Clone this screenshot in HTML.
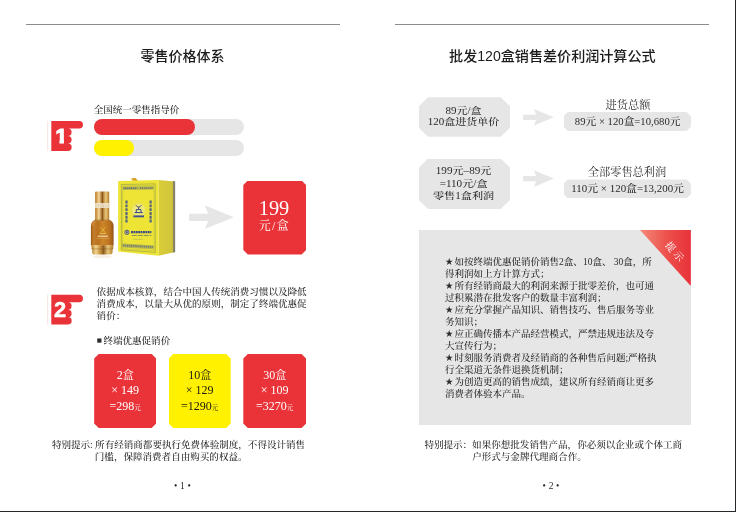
<!DOCTYPE html>
<html lang="zh-CN">
<head>
<meta charset="utf-8">
<title>零售价格体系</title>
<style>
html,body{margin:0;padding:0;background:#fff;}
body{width:736px;height:512px;position:relative;overflow:hidden;
  font-family:"Liberation Serif","Noto Serif CJK SC",serif;color:#2b2b2b;}
.abs{position:absolute;}
.t{position:absolute;white-space:nowrap;font-size:9.56px;line-height:12.1px;color:#2a2a2a;font-weight:500;}
.hline{position:absolute;height:1px;background:#8c8c8c;top:24px;}
.title{position:absolute;top:44px;font-family:"Liberation Sans","Noto Sans CJK SC",sans-serif;
  font-size:14px;line-height:24px;font-weight:500;color:#1c1c1c;white-space:nowrap;text-align:center;}
.bar{position:absolute;height:16px;border-radius:8px;}
.oct{position:absolute;text-align:center;white-space:nowrap;}
.pbox{position:absolute;width:62px;height:74px;top:354px;color:#fff;text-align:center;
  font-size:12px;line-height:15.7px;white-space:nowrap;
  clip-path:polygon(4.5px 0,calc(100% - 4.5px) 0,100% 4.5px,100% calc(100% - 4.5px),calc(100% - 4.5px) 100%,4.5px 100%,0 calc(100% - 4.5px),0 4.5px);}
.pbox .in{position:absolute;left:0;right:0;top:13.6px;}
.pbox small{font-size:6.5px;}
.pbox .h{font-size:11px;}
.gbox{position:absolute;background:#e6e6e6;text-align:center;white-space:nowrap;color:#2a2a2a;font-weight:500;}
.s{display:inline-block;width:9.5px;font-size:7.9px;line-height:9px;vertical-align:0.9px;text-indent:0.4px;}
.num{position:absolute;font-size:9.5px;line-height:12px;white-space:nowrap;color:#2a2a2a;word-spacing:0.35px;}
</style>
</head>
<body>

<!-- frame edges -->
<div class="abs" style="left:735px;top:0;width:1px;height:512px;background:#23292d;"></div>
<div class="abs" style="left:0;top:511px;width:736px;height:1px;background:#23292d;"></div>

<!-- ================= LEFT PAGE ================= -->
<div class="hline" style="left:26px;width:313.5px;"></div>
<div class="title" style="left:82.5px;width:200px;">零售价格体系</div>

<div class="t" style="left:93.8px;top:104px;font-size:9.5px;">全国统一零售指导价</div>

<!-- hand 1 -->
<svg class="abs" style="left:46px;top:119px;" width="40" height="34" viewBox="46 119 40 34">
  <rect x="47.4" y="121" width="0.7" height="30" fill="#f6d9d6"/>
  <path d="M51.3 121.1H79.2a3.75 3.75 0 0 1 0 7.5H67.9a3.7 3.7 0 0 1 0 7.4a3.7 3.7 0 0 1 0 7.4a3.7 3.7 0 0 1 0 7.5H51.3Z" fill="#e93338"/>
  <clipPath id="c1"><path d="M50 120H70V139.2H63.95V146H59.5V139.2H50Z"/></clipPath>
  <text x="55.5" y="142.8" clip-path="url(#c1)" style="font-family:'Liberation Sans',sans-serif;font-weight:700;font-size:20.8px" fill="#fff" stroke="#fff" stroke-width="1.1">1</text>
</svg>

<div class="bar" style="left:94px;top:119px;width:149.5px;background:#e6e6e6;"></div>
<div class="bar" style="left:94px;top:119px;width:101px;background:#e93338;"></div>
<div class="bar" style="left:94px;top:140px;width:149.5px;background:#e6e6e6;"></div>
<div class="bar" style="left:94px;top:140px;width:39.6px;background:#fff100;"></div>

<!-- product -->
<svg class="abs" id="product" style="left:86px;top:174px;" width="94" height="88" viewBox="86 174 94 88">
  <defs>
    <linearGradient id="capg" x1="0" y1="0" x2="1" y2="0">
      <stop offset="0" stop-color="#b57c2c"/><stop offset="0.1" stop-color="#cf9a4a"/>
      <stop offset="0.28" stop-color="#f2d7a0"/><stop offset="0.42" stop-color="#c08a40"/>
      <stop offset="0.53" stop-color="#85551c"/><stop offset="0.62" stop-color="#c99748"/>
      <stop offset="0.78" stop-color="#e8c57c"/><stop offset="1" stop-color="#b07828"/>
    </linearGradient>
    <linearGradient id="bodyg" x1="0" y1="0" x2="1" y2="0">
      <stop offset="0" stop-color="#9c5a16"/><stop offset="0.12" stop-color="#c47e2c"/>
      <stop offset="0.3" stop-color="#bb7220"/><stop offset="0.55" stop-color="#cd8529"/>
      <stop offset="0.85" stop-color="#b86f1e"/><stop offset="1" stop-color="#925012"/>
    </linearGradient>
    <linearGradient id="baseg" x1="0" y1="0" x2="1" y2="0">
      <stop offset="0" stop-color="#b57f2c"/><stop offset="0.2" stop-color="#f2d58f"/>
      <stop offset="0.42" stop-color="#c08a36"/><stop offset="0.55" stop-color="#8c5c1e"/>
      <stop offset="0.75" stop-color="#e9c679"/><stop offset="1" stop-color="#b07a28"/>
    </linearGradient>
    <linearGradient id="sideg" x1="0" y1="0" x2="1" y2="0">
      <stop offset="0" stop-color="#d9cd38"/><stop offset="1" stop-color="#cfc33c"/>
    </linearGradient>
    <radialGradient id="embg" cx="0.5" cy="0.5" r="0.5">
      <stop offset="0" stop-color="#f4ee9a"/><stop offset="0.7" stop-color="#efe76a"/><stop offset="1" stop-color="#eee436" stop-opacity="0"/>
    </radialGradient>
  </defs>
  <!-- box side -->
  <path d="M158.4 180L175 181.4V252L158.7 255.7Z" fill="url(#sideg)"/>
  <path d="M173.2 181.2L175 181.4V252L173.2 252.4Z" fill="#8c8666"/>
  <path d="M173.2 181.2L175 181.4V252L173.2 252.4Z" fill="none" stroke="#5c5a78" stroke-width="0.5" stroke-dasharray="0.8 0.8"/>
  <!-- ribbon tab -->
  <path d="M131.1 178.3L135.8 177.9L139.2 182.8H134Z" fill="#d6a224"/>
  <!-- box front -->
  <path d="M118.1 180.9L158.5 180L158.7 255.7L118.1 251.5Z" fill="#eee436"/>
  <path d="M121.4 184.5L155.2 183.9L155.3 252.4L121.4 249.9Z" fill="none" stroke="#8d9a4a" stroke-width="0.6"/>
  <path d="M122.7 185.9L154 185.4L154.1 250.8L122.7 248.6Z" fill="none" stroke="#a9ae44" stroke-width="0.4"/>
  <!-- ornate bands -->
  <path d="M123 186.6L153.7 186.2V189.6L123 189.9Z" fill="#b3b24e"/>
  <path d="M123.4 188.2H137M140 188.1H153.4" stroke="#4b5a86" stroke-width="1.4" stroke-dasharray="1.1 0.8" opacity="0.85"/>
  <path d="M122.4 243.6L153.6 245.2V249.2L122.4 247.4Z" fill="#b5b450"/>
  <path d="M122.8 245.4L153.2 247.1" stroke="#53618a" stroke-width="1.5" stroke-dasharray="1.2 0.9" opacity="0.8"/>
  <!-- emblem -->
  <circle cx="138.6" cy="210.2" r="8.6" fill="url(#embg)"/>
  <circle cx="138.6" cy="210.2" r="7.4" fill="none" stroke="#d9d36a" stroke-width="0.7" stroke-dasharray="0.8 0.6"/>
  <path d="M135.9 205.2Q138.6 209.2 141.4 205.2M138.6 207.3V209.3M136.3 212.4V209.6H141V212.4M134.6 212.6H142.8" fill="none" stroke="#34457f" stroke-width="1"/>
  <rect x="133.4" y="215.4" width="10.6" height="1.9" fill="#44548a"/>
  <!-- vertical text marks -->
  <path d="M126.5 200.6V223" stroke="#45558a" stroke-width="2.2" stroke-dasharray="2.9 0.9" opacity="0.9"/>
  <path d="M150.6 200.6V223.4" stroke="#45558a" stroke-width="2.2" stroke-dasharray="2.9 0.9" opacity="0.9"/>
  <!-- lower label -->
  <circle cx="126.9" cy="232.3" r="2.1" fill="#e9e28a" stroke="#34457f" stroke-width="0.9"/>
  <rect x="126.1" y="231.3" width="1.6" height="2" fill="#34457f"/>
  <path d="M131 232.1H151.4" stroke="#3b4b86" stroke-width="2.1" stroke-dasharray="1.9 0.5"/>
  <path d="M131.8 235.5H151.4" stroke="#7d8768" stroke-width="0.9" stroke-dasharray="5 1"/>
  <path d="M133.4 239.4H142.6" stroke="#b9b85a" stroke-width="0.7"/>
  <!-- bottle reflection -->
  <ellipse cx="102.3" cy="256.6" rx="9.5" ry="1.6" fill="#f4ead8" opacity="0.7"/>
  <!-- bottle body -->
  <path d="M96.4 219.6Q90.9 220.6 90.9 226.5V245.6H113.6V226.5Q113.6 220.6 108 219.6Z" fill="url(#bodyg)"/>
  <path d="M92.2 226Q92.4 222 95.5 221.3" fill="none" stroke="#e0a85a" stroke-width="0.7" opacity="0.8"/>
  <path d="M100.6 227.4L105.2 232.6M105.2 227.4L100.6 232.6" stroke="#e9b838" stroke-width="0.9"/>
  <rect x="99.6" y="233.1" width="6.6" height="0.8" fill="#e9c25a"/>
  <rect x="97.6" y="235.6" width="10.6" height="1.3" fill="#ecd6a6" opacity="0.9"/>
  <rect x="96.4" y="238" width="13" height="0.6" fill="#dcae6a" opacity="0.8"/>
  <!-- base -->
  <path d="M91.5 245.3H113.3V248.6Q113.3 249.2 112.6 249.3V252.3Q112.6 254.6 110 254.6H94.8Q92.2 254.6 92.2 252.3V249.3Q91.5 249.2 91.5 248.6Z" fill="url(#baseg)"/>
  <rect x="91.5" y="248.6" width="21.8" height="0.7" fill="#7f531c" opacity="0.55"/>
  <!-- cap -->
  <path d="M95.1 192.6Q95.1 191.6 96.1 191.6H108.2Q109.2 191.6 109.2 192.6V220.6H95.1Z" fill="url(#capg)"/>
  <rect x="95.1" y="203.1" width="14.1" height="4.8" fill="#f3ead9" opacity="0.88"/>
  <path d="M95.6 205.5H108.8" stroke="#d9c29a" stroke-width="2.6" stroke-dasharray="1.1 1.3" opacity="0.7"/>
  <rect x="95.1" y="219.6" width="14.1" height="1" fill="#8a5a20" opacity="0.5"/>
</svg>

<!-- arrow big -->
<svg class="abs" style="left:186px;top:202px;" width="52" height="30" viewBox="186 202 52 30">
  <path d="M189.1 213.8H208.2L204.7 205.3L233.8 217.2L204.7 229L208.2 220.9H189.1Z" fill="#e6e6e6"/>
</svg>

<!-- 199 box -->
<div class="abs" style="left:243.3px;top:180.6px;width:62.8px;height:74px;background:#e93338;color:#fff;text-align:center;
  clip-path:polygon(4.5px 0,calc(100% - 4.5px) 0,100% 4.5px,100% calc(100% - 4.5px),calc(100% - 4.5px) 100%,4.5px 100%,0 calc(100% - 4.5px),0 4.5px);">
  <div class="abs" style="left:-1.4px;right:0;top:17.2px;font-size:20.4px;line-height:20px;">199</div>
  <div class="abs" style="left:-0.4px;right:0;top:37px;font-size:12px;line-height:16px;letter-spacing:1.4px;">元/盒</div>
</div>

<!-- hand 2 -->
<svg class="abs" style="left:46px;top:292px;" width="40" height="36" viewBox="46 292 40 36">
  <rect x="47.4" y="294.6" width="0.7" height="30" fill="#f6d9d6"/>
  <path d="M51.3 294.8H79.2a3.75 3.75 0 0 1 0 7.5H67.9a3.7 3.7 0 0 1 0 7.4a3.7 3.7 0 0 1 0 7.4a3.7 3.7 0 0 1 0 7.5H51.3Z" fill="#e93338"/>
  <text x="54" y="316.5" style="font-family:'Liberation Sans',sans-serif;font-weight:700;font-size:21.8px" fill="#fff" stroke="#fff" stroke-width="0.45">2</text>
</svg>

<div class="t" style="left:96.6px;top:285.6px;">依据成本核算，结合中国人传统消费习惯以及降低<br>消费成本，以量大从优的原则，制定了终端优惠促<br>销价：</div>

<div class="t" style="left:96.8px;top:334.4px;"><span style="font-size:5.5px;display:inline-block;width:6.6px;vertical-align:1.9px;font-family:'DejaVu Sans',sans-serif;">■</span>终端优惠促销价</div>

<div class="pbox" style="left:94.2px;background:#e93338;"><div class="in">2<span class="h">盒</span><br>× 149<br>=298<small>元</small></div></div>
<div class="pbox" style="left:168.7px;background:#fff100;color:#1a1a1a;"><div class="in">10<span class="h">盒</span><br>× 129<br>=1290<small>元</small></div></div>
<div class="pbox" style="left:243.3px;width:62.8px;background:#e93338;"><div class="in">30<span class="h">盒</span><br>× 109<br>=3270<small>元</small></div></div>

<div class="t" style="left:51.9px;top:438.6px;line-height:12.5px;">特别提示: 所有经销商都要执行免费体验制度，不得设计销售</div>
<div class="t" style="left:94.8px;top:451.2px;line-height:12.5px;">门槛，保障消费者自由购买的权益。</div>

<div class="num" style="left:174px;top:479.5px;">• 1 •</div>

<!-- ================= RIGHT PAGE ================= -->
<div class="hline" style="left:394.6px;width:314px;"></div>
<div class="title" style="left:449.1px;width:205px;font-size:14.08px;">批发120盒销售差价利润计算公式</div>

<!-- row 1 -->
<div class="gbox" style="left:418.6px;top:97.2px;width:91.6px;height:39.6px;
  clip-path:polygon(9.5px 0,calc(100% - 9.5px) 0,100% 9.2px,100% calc(100% - 9.2px),calc(100% - 9.5px) 100%,9.5px 100%,0 calc(100% - 9.2px),0 9.2px);">
  <div class="abs" style="left:-1.4px;right:0;top:7.4px;font-size:9.6px;line-height:11.8px;transform:scaleX(1.148);">89元/盒<br>120盒进货单价</div>
</div>
<svg class="abs" style="left:520px;top:106px;" width="38" height="22" viewBox="520 106 38 22">
  <path d="M523 114.7H536.2L533.9 109L553.8 117.3L533.9 125.6L536.2 119.9H523Z" fill="#e6e6e6"/>
</svg>
<div class="t" style="left:577.5px;width:100px;text-align:center;top:98.6px;font-size:10.8px;font-weight:400;transform:scaleX(1.04);">进货总额</div>
<div class="gbox" style="left:563.6px;top:112px;width:127.3px;height:19px;
  clip-path:polygon(4.3px 0,calc(100% - 4.3px) 0,100% 4.3px,100% calc(100% - 4.3px),calc(100% - 4.3px) 100%,4.3px 100%,0 calc(100% - 4.3px),0 4.3px);">
  <div class="abs" style="left:0;right:0;top:3.6px;font-size:10.2px;line-height:12px;transform:scaleX(1.05);">89元 × 120盒=10,680元</div>
</div>

<!-- row 2 -->
<div class="gbox" style="left:418.6px;top:158.6px;width:91.6px;height:50.5px;
  clip-path:polygon(9.5px 0,calc(100% - 9.5px) 0,100% 9.2px,100% calc(100% - 9.2px),calc(100% - 9.5px) 100%,9.5px 100%,0 calc(100% - 9.2px),0 9.2px);">
  <div class="abs" style="left:-1.6px;right:0;top:6.6px;font-size:9.6px;line-height:12.6px;transform:scaleX(1.16);">199元–89元<br>=110元/盒<br>零售1盒利润</div>
</div>
<svg class="abs" style="left:520px;top:167px;" width="38" height="22" viewBox="520 167 38 22">
  <path d="M523 176H536.2L533.9 170.3L553.8 178.6L533.9 186.9L536.2 181.2H523Z" fill="#e6e6e6"/>
</svg>
<div class="t" style="left:577.1px;width:100px;text-align:center;top:166.2px;font-size:10.8px;font-weight:400;transform:scaleX(1.04);">全部零售总利润</div>
<div class="gbox" style="left:563.6px;top:179.4px;width:127.3px;height:19px;
  clip-path:polygon(4.3px 0,calc(100% - 4.3px) 0,100% 4.3px,100% calc(100% - 4.3px),calc(100% - 4.3px) 100%,4.3px 100%,0 calc(100% - 4.3px),0 4.3px);">
  <div class="abs" style="left:0;right:0;top:3.6px;font-size:10.2px;line-height:12px;transform:scaleX(1.07);">110元 × 120盒=13,200元</div>
</div>

<!-- tip panel -->
<div class="abs" style="left:419px;top:230.3px;width:271.8px;height:195px;background:#e6e6e6;"></div>
<svg class="abs" style="left:640px;top:230.3px;" width="51" height="57" viewBox="0 0 51 57">
  <defs><linearGradient id="rg" x1="0" y1="0" x2="1" y2="0">
    <stop offset="0" stop-color="#f4897a"/><stop offset="0.55" stop-color="#ec4f4a"/><stop offset="1" stop-color="#e8323a"/></linearGradient></defs>
  <path d="M0 0H50.8V56Z" fill="url(#rg)"/>
  <text transform="translate(24.6,15.2) rotate(49.5)" style="font-family:'Liberation Serif','Noto Serif CJK SC',serif;font-size:10px;letter-spacing:2.6px" fill="#fff">提示</text>
</svg>

<div class="t" id="tips" style="left:444.9px;top:255.6px;line-height:12.06px;font-size:9.5px;"><span class="s">★</span>如按终端优惠促销价销售2盒、<span style="margin-left:0.4px">10盒、</span><span style="margin-left:2.2px">30盒，所</span><br>得利润如上方计算方式；<br><span class="s">★</span>所有经销商最大的利润来源于批零差价，也可通<br>过积累潜在批发客户的数量丰富利润；<br><span class="s">★</span>应充分掌握产品知识、销售技巧、售后服务等业<br>务知识；<br><span class="s">★</span>应正确传播本产品经营模式，严禁违规违法及夸<br>大宣传行为；<br><span class="s">★</span>时刻服务消费者及经销商的各种售后问题;严格执<br>行全渠道无条件退换货机制；<br><span class="s">★</span>为创造更高的销售成绩，建议所有经销商让更多<br>消费者体验本产品。</div>

<div class="t" style="left:424.4px;top:438.6px;line-height:12.5px;">特别提示：如果你想批发销售产品，你必须以企业或个体工商</div>
<div class="t" style="left:472.2px;top:451.2px;line-height:12.5px;">户形式与金牌代理商合作。</div>

<div class="num" style="left:542.6px;top:479.5px;">• 2 •</div>

</body>
</html>
